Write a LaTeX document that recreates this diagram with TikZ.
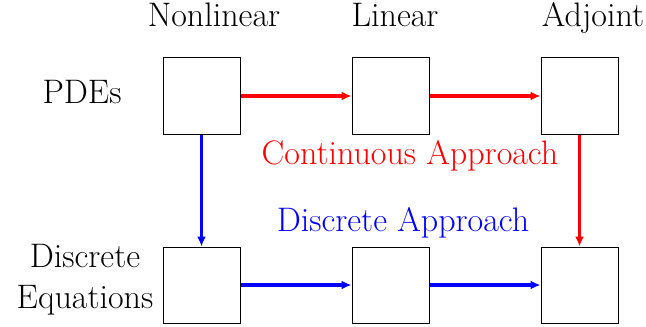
\documentclass[tikz,border=0pt]{standalone}
\usetikzlibrary{arrows.meta}
\begin{document}
\begin{tikzpicture}[x=0.5pt,y=-0.5pt,
  box/.style={draw,line width=0.5pt,minimum width=38.5pt,minimum height=38pt,inner sep=0pt},
  lbl/.style={font=\fontsize{17}{20.5}\selectfont,inner sep=0pt},
  redarr/.style={draw=red,line width=1.7pt,-{Latex[length=5pt,width=4.5pt]}},
  bluearr/.style={draw=blue,line width=1.7pt,-{Latex[length=5pt,width=4.5pt]}}]
\useasboundingbox (0,0) rectangle (646,326);
\node[box] (a1) at (201.5,96) {};
\node[box] (a2) at (390.5,96) {};
\node[box] (a3) at (579.5,96) {};
\node[box] (b1) at (201.5,285) {};
\node[box] (b2) at (390.5,285) {};
\node[box] (b3) at (579.5,285) {};
\node[lbl,anchor=base] (t1) at (214,27) {Nonlinear};
\node[lbl,anchor=base] (t2) at (395,27) {Linear};
\node[lbl,anchor=base] (t3) at (593,27) {Adjoint};
\node[lbl,anchor=base] (p) at (82,104) {PDEs};
\node[lbl,align=center] (d) at (85,280) {Discrete\\Equations};
\node[lbl,anchor=base,text=red] (c) at (410,164) {Continuous Approach};
\node[lbl,anchor=base,text=blue] (da) at (403,231) {Discrete Approach};
\draw[redarr] (a1) -- (a2);
\draw[redarr] (a2) -- (a3);
\draw[redarr] (a3) -- (b3);
\draw[bluearr] (a1) -- (b1);
\draw[bluearr] (b1) -- (b2);
\draw[bluearr] (b2) -- (b3);
\end{tikzpicture}
\end{document}
